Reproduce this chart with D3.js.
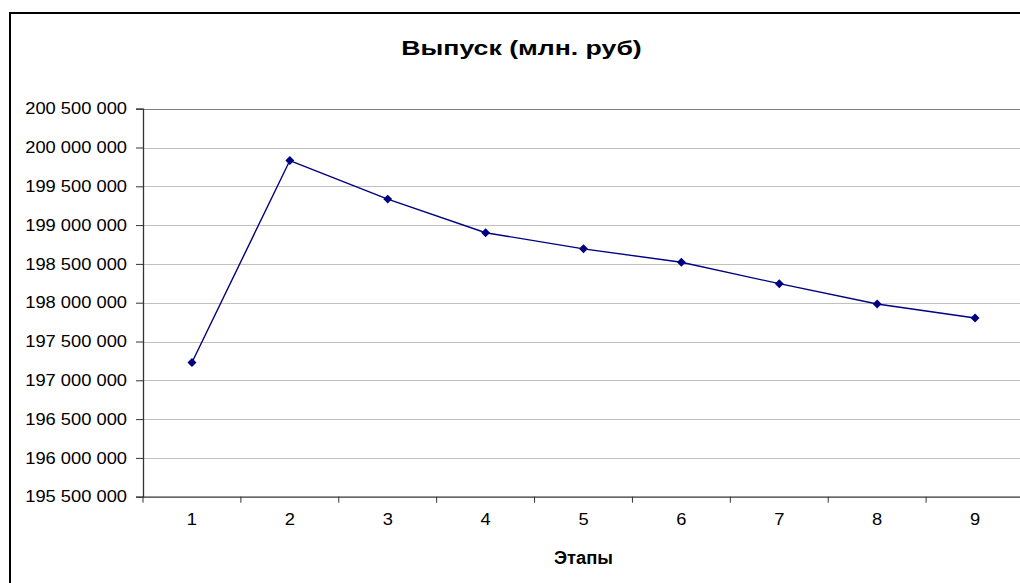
<!DOCTYPE html>
<html>
<head>
<meta charset="utf-8">
<script src="https://cdn.jsdelivr.net/npm/d3@7"></script>
<style>
  body { margin: 0; background: #fff; }
  svg { display: block; font-family: Arial, "Liberation Sans", sans-serif; }
</style>
</head>
<body>
<div id="chart"></div>
<script>
(function() {
	// chart data
	var stages = ["1", "2", "3", "4", "5", "6", "7", "8", "9"];
	var output = [197229000, 199832000, 199335000, 198902000, 198694000, 198521000, 198245000, 197983000, 197802000];
	var yTicks = [195500000, 196000000, 196500000, 197000000, 197500000, 198000000, 198500000, 199000000, 199500000, 200000000, 200500000];
	var titleText = "Выпуск (млн. руб)";
	var xTitleText = "Этапы";

	var width = 1020;
	var height = 583;
	var plot = { left: 143, right: 1024, top: 108.7, bottom: 496.7 };
	// the original picture is stretched a bit horizontally
	var sx = 1.11;

	var svg = d3.select("#chart")
		.append("svg")
		.attr("width", width)
		.attr("height", height);

	// outer chart border (cut off on the right and bottom)
	svg.append("rect")
		.attr("x", 10)
		.attr("y", 13)
		.attr("width", 1040)
		.attr("height", 600)
		.attr("fill", "#fff")
		.attr("stroke", "#000")
		.attr("stroke-width", 2);

	var x = d3.scaleBand()
		.domain(stages)
		.range([plot.left, plot.right]);

	var y = d3.scaleLinear()
		.domain([195500000, 200500000])
		.range([plot.bottom, plot.top]);

	var ru = d3.formatLocale({ decimal: ",", thousands: " ", grouping: [3], currency: ["", ""] });
	var fmt = ru.format(",");

	// gridlines
	svg.append("g")
		.selectAll("line")
		.data(yTicks.slice(1))
		.enter()
		.append("line")
		.attr("x1", plot.left)
		.attr("x2", plot.right)
		.attr("y1", function(d) { return Math.round(y(d)) + 0.5; })
		.attr("y2", function(d) { return Math.round(y(d)) + 0.5; })
		.attr("stroke", function(d, i) { return i === yTicks.length - 2 ? "#808080" : "#c0c0c0"; })
		.attr("stroke-width", 1.2);

	// y axis
	var yAxis = d3.axisLeft(y)
		.tickValues(yTicks)
		.tickFormat(fmt)
		.tickSize(7)
		.tickPadding(9);
	var gy = svg.append("g")
		.attr("transform", "translate(" + plot.left + ",0)")
		.call(yAxis);
	gy.select(".domain").attr("stroke", "#333").attr("stroke-width", 1.3);
	gy.selectAll(".tick line").attr("stroke", "#333");
	gy.selectAll(".tick text")
		.attr("font-size", "16.5px")
		.attr("fill", "#000")
		.attr("font-family", "Arial, 'Liberation Sans', sans-serif")
		.attr("x", -16 / sx)
		.attr("transform", "scale(" + sx + ",1)");

	// x axis: ticks on category boundaries
	var xAxis = d3.axisBottom(x).tickSize(0).tickPadding(17);
	var gx = svg.append("g")
		.attr("transform", "translate(0," + plot.bottom + ")")
		.call(xAxis);
	gx.select(".domain").attr("stroke", "#333").attr("stroke-width", 1.3);
	gx.selectAll(".tick text")
		.attr("font-size", "16.5px")
		.attr("fill", "#000")
		.attr("font-family", "Arial, 'Liberation Sans', sans-serif")
		.attr("transform", "scale(" + sx + ",1)");
	gx.selectAll(".boundary")
		.data(stages)
		.enter()
		.append("line")
		.attr("x1", function(d) { return x(d); })
		.attr("x2", function(d) { return x(d); })
		.attr("y1", 0)
		.attr("y2", 6)
		.attr("stroke", "#333");

	// series line
	var line = d3.line()
		.x(function(d, i) { return x(stages[i]) + x.bandwidth() / 2; })
		.y(function(d) { return y(d); });

	svg.append("path")
		.datum(output)
		.attr("d", line)
		.attr("fill", "none")
		.attr("stroke", "#000080")
		.attr("stroke-width", 1.4);

	// diamond markers
	svg.append("g")
		.selectAll("path")
		.data(output)
		.enter()
		.append("path")
		.attr("d", d3.symbol().type(d3.symbolSquare).size(40))
		.attr("transform", function(d, i) {
			return "translate(" + (x(stages[i]) + x.bandwidth() / 2) + "," + y(d) + ") rotate(45)";
		})
		.attr("fill", "#000080");

	// titles
	svg.append("g")
		.attr("transform", "translate(521.5,55) scale(1.27,1)")
		.append("text")
		.attr("text-anchor", "middle")
		.attr("font-size", "21px")
		.attr("font-weight", "bold")
		.text(titleText);

	svg.append("g")
		.attr("transform", "translate(" + (plot.left + plot.right) / 2 + ",564) scale(1.05,1)")
		.append("text")
		.attr("text-anchor", "middle")
		.attr("font-size", "17.5px")
		.attr("font-weight", "bold")
		.text(xTitleText);
})();
</script>
</body>
</html>
